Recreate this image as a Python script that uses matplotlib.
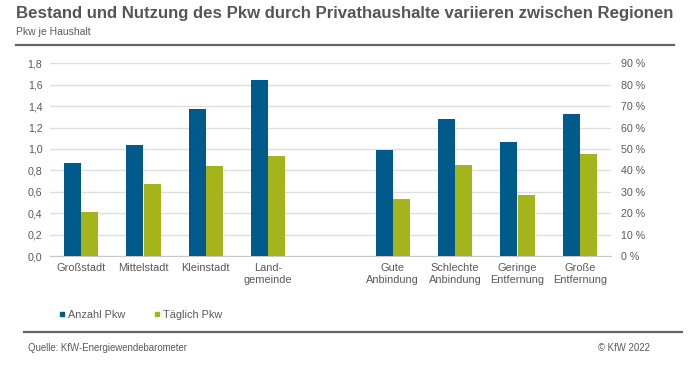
import matplotlib.pyplot as plt
from matplotlib.lines import Line2D
from matplotlib.ticker import FuncFormatter

# Daten
kategorien_links = ['Großstadt', 'Mittelstadt', 'Kleinstadt', 'Land-\ngemeinde']
anzahl_links = [0.87, 1.04, 1.37, 1.64]     # Pkw je Haushalt
taeglich_links = [0.41, 0.67, 0.84, 0.93]

kategorien_rechts = ['Gute\nAnbindung', 'Schlechte\nAnbindung', 'Geringe\nEntfernung', 'Große\nEntfernung']
anzahl_rechts = [49.7, 64.0, 53.3, 66.2]    # Prozent
taeglich_rechts = [26.6, 42.4, 28.7, 47.8]

blau = '#005A8C'
gruen = '#A6B41C'
grau_text = '#595959'

plt.rcParams['font.family'] = ['Liberation Sans', 'DejaVu Sans']

W, H = 696, 392
fig = plt.figure(figsize=(W / 100, H / 100), dpi=100)
ax = fig.add_axes([50 / W, 1 - 256 / H, 561 / W, (256 - 63.3) / H])
ax2 = ax.twinx()

pos_links = list(range(4))
pos_rechts = [5, 6, 7, 8]
b = 0.27
d = 0.14

ax.bar([p - d for p in pos_links], anzahl_links, width=b, color=blau, zorder=3)
ax.bar([p + d for p in pos_links], taeglich_links, width=b, color=gruen, zorder=3)
ax2.bar([p - d for p in pos_rechts], anzahl_rechts, width=b, color=blau, zorder=3)
ax2.bar([p + d for p in pos_rechts], taeglich_rechts, width=b, color=gruen, zorder=3)

ax.set_xlim(-0.5, 8.5)
ax.set_ylim(0, 1.8)
ax2.set_ylim(0, 90)
ax.set_yticks([i * 0.2 for i in range(10)])
ax2.set_yticks(range(0, 91, 10))
ax.yaxis.set_major_formatter(FuncFormatter(lambda v, p: f'{v:.1f}'.replace('.', ',')))
ax2.yaxis.set_major_formatter(FuncFormatter(lambda v, p: f'{v:.0f} %'))

ax.set_xticks(pos_links + [4] + pos_rechts)
ax.set_xticklabels(kategorien_links + [''] + kategorien_rechts, linespacing=1.3)

ax.grid(axis='y', color='#dedede', lw=1, zorder=0)
ax.set_axisbelow(True)
for a in (ax, ax2):
    for s in a.spines.values():
        s.set_visible(False)
ax.spines['bottom'].set_visible(True)
ax.spines['bottom'].set_color('#c8c8c8')
ax.tick_params(axis='x', length=0, pad=5, labelsize=7.9, labelcolor=grau_text)
ax.tick_params(axis='y', length=0, pad=5.5, labelsize=7.7, labelcolor=grau_text)
ax2.tick_params(axis='y', length=0, pad=7, labelsize=7.7, labelcolor=grau_text)

# Titel und Linien
fig.text(16 / W, 1 - 13.3 / H, 'Bestand und Nutzung des Pkw durch Privathaushalte variieren zwischen Regionen',
         fontsize=12.1, fontweight='bold', color='#555555', va='center')
fig.text(16 / W, 1 - 32.3 / H, 'Pkw je Haushalt', fontsize=7.5, color=grau_text, va='center')
fig.add_artist(Line2D([16 / W, 674 / W], [1 - 44.5 / H] * 2, color='#666666', lw=1.6))
fig.add_artist(Line2D([24 / W, 682 / W], [1 - 331.5 / H] * 2, color='#666666', lw=1.6))

# Legende
handles = [Line2D([], [], marker='s', ls='', color=blau, markersize=3),
           Line2D([], [], marker='s', ls='', color=gruen, markersize=3)]
leg = fig.legend(handles, ['Anzahl Pkw', 'Täglich Pkw'], loc='center left',
                 bbox_to_anchor=(58 / W, 1 - 315 / H), ncol=2, frameon=False,
                 handlelength=0.7, handletextpad=0.2, columnspacing=2.6,
                 borderpad=0, borderaxespad=0, fontsize=7.8)
for t in leg.get_texts():
    t.set_color(grau_text)

# Fußzeile
fig.text(28 / W, 1 - 348 / H, 'Quelle: KfW-Energiewendebarometer', fontsize=6.9, color=grau_text, va='center')
fig.text(650 / W, 1 - 348 / H, '© KfW 2022', fontsize=6.9, color=grau_text, va='center', ha='right')

fig.savefig('out.png', dpi=100)
